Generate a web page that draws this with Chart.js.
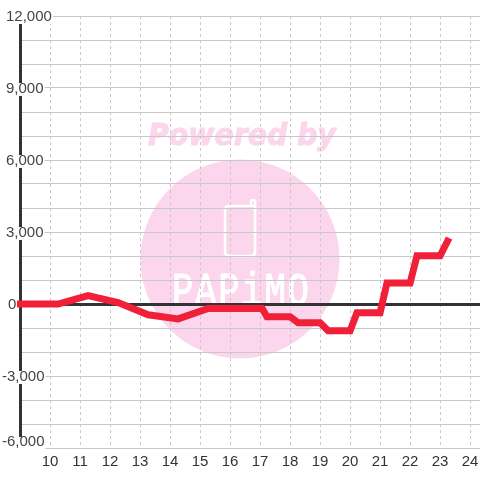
<!DOCTYPE html>
<html><head><meta charset="utf-8">
<style>html,body{margin:0;padding:0;background:#fff}#w{width:480px;height:480px}</style>
<script src="https://cdn.jsdelivr.net/npm/chart.js@4"></script>
</head><body><div id="w"><canvas id="c" width="480" height="480"></canvas></div>
<script>
const xValues = [8.9, 10.27, 11.27, 12.27, 13.27, 14.27, 15.27, 16.27, 17.07, 17.23, 18, 18.27, 19, 19.27, 20, 20.23, 21, 21.23, 22, 22.23, 23, 23.3];
const yValues = [0, 0, 350, 60, -450, -620, -190, -190, -190, -530, -530, -780, -780, -1110, -1110, -360, -360, 875, 875, 2010, 2010, 2750];
const yTickLabels = {12000:'12,000', 9000:'9,000', 6000:'6,000', 3000:'3,000', 0:'0', '-3000':'-3,000', '-6000':'-6,000'};
const xMin = 9, xMax = 24.33, yMin = -6000, yMax = 12000;
const FONT = '"Liberation Sans"';

const watermark = {
  id: 'watermark',
  beforeDraw(chart) {
    const c = chart.ctx;
    c.save();
    c.fillStyle = '#fbd6ec';
    c.strokeStyle = '#fbd6ec';
    c.beginPath(); c.arc(240, 259, 99.5, 0, Math.PI * 2); c.fill();
    c.save();
    c.translate(148, 145); c.scale(0.945, 1);
    c.font = 'italic bold 30px "DejaVu Sans"';
    c.textAlign = 'left'; c.textBaseline = 'alphabetic';
    c.lineWidth = 1;
    c.fillText('Powered by', 0, 0);
    c.strokeText('Powered by', 0, 0);
    c.restore();
    c.strokeStyle = '#fff'; c.fillStyle = '#fff'; c.lineWidth = 2.5; c.lineJoin = 'round'; c.lineCap = 'round';
    c.beginPath();
    c.moveTo(253, 206); c.lineTo(229, 206); c.quadraticCurveTo(225, 206, 225, 210);
    c.lineTo(225, 252); c.quadraticCurveTo(225, 256, 229, 256); c.lineTo(251, 256);
    c.quadraticCurveTo(255, 256, 255, 252); c.lineTo(255, 201);
    c.quadraticCurveTo(253, 199, 251, 201); c.lineTo(251, 206);
    c.stroke();
    c.save();
    c.translate(172, 305); c.scale(0.85, 1.1);
    c.font = '42px "Liberation Mono"';
    c.textAlign = 'left';
    c.letterSpacing = '2px';
    c.lineWidth = 1;
    c.fillText('PAPiMO', 0, 0);
    c.strokeText('PAPiMO', 0, 0);
    c.restore();
    c.restore();

    // nudge the library's own y tick labels to sit as in the reference
    const s = chart.scales.y;
    s.getLabelItems(chart.chartArea).forEach(it => {
      if (!it.label) return;
      const o = it.options, y = o.translation[1];
      const neg = it.label[0] === '-', zero = it.label === '0';
      const bottom = it.label === '-6,000', top = it.label === '12,000';
      const x = neg ? 2 : zero ? 8 : 6;
      o.translation = [x, y + (bottom ? -6.5 : 1)];
      if (o.backdrop) {
        const b = o.backdrop;
        b.left = -1; b.width += 2;
        b.top = bottom ? -4.5 : top ? -9 : -6;
        b.height = bottom ? 14 : top ? 16 : 13;
      }
    });
  }
};

new Chart(document.getElementById('c'), {
  type: 'line',
  data: { datasets: [{
    data: xValues.map((x, i) => ({x, y: yValues[i]})),
    borderColor: '#f02038', borderWidth: 7, pointRadius: 0, tension: 0,
    borderJoinStyle: 'miter', borderCapStyle: 'butt', fill: false, clip: false
  }]},
  plugins: [watermark],
  options: {
    responsive: false, animation: false,
    layout: { padding: { top: 16, left: 20, right: 0, bottom: 0 } },
    plugins: { legend: {display:false}, title: {display:false}, tooltip: {enabled:false} },
    scales: {
      x: {
        type: 'linear', min: xMin, max: xMax,
        afterBuildTicks(s) { s.ticks = s.ticks.filter(t => t.value >= 10); },
        afterFit(s) { s.height = 32; s.paddingLeft = 0; s.paddingRight = 0; },
        grid: { color: '#c8c8c8', lineWidth: 1, drawTicks: false },
        border: { display: false, dash: [3, 3] },
        ticks: { stepSize: 1, includeBounds: false, autoSkip: false, maxRotation: 0, padding: 5,
          color: '#333', font: { family: FONT, size: 15 }, callback: v => String(v) }
      },
      y: {
        type: 'linear', min: yMin, max: yMax, position: 'left',
        afterFit(s) { s.width = 0; s.paddingTop = 0; s.paddingBottom = 0; },
        grid: { drawTicks: false,
          color: c => c.tick.value === 0 ? '#333333' : '#c8c8c8',
          lineWidth: c => c.tick.value === 0 ? 3 : 1 },
        border: { display: true, color: '#333333', width: 3 },
        ticks: { stepSize: 1000, mirror: true, padding: -14, autoSkip: false,
          color: '#444', font: { family: FONT, size: 15, lineHeight: 0.9 },
          showLabelBackdrop: c => yTickLabels[c.tick.value] !== undefined,
          backdropColor: '#fff', backdropPadding: 0,
          callback: v => yTickLabels[v] === undefined ? '' : yTickLabels[v] }
      }
    }
  }
});
</script></body></html>
